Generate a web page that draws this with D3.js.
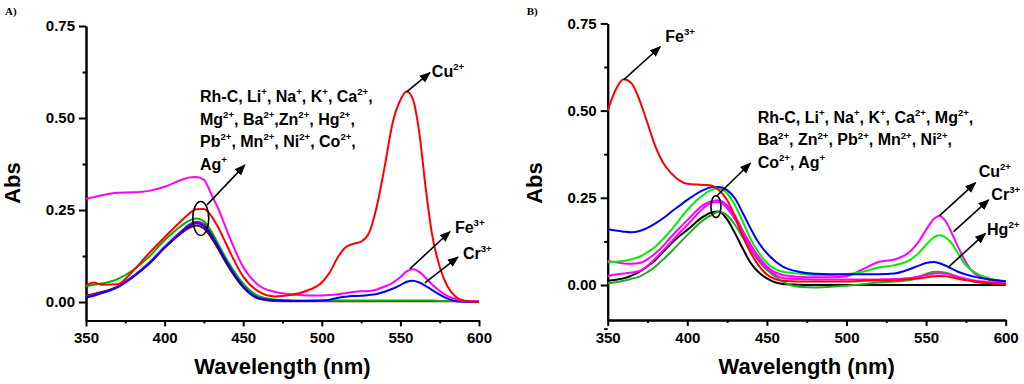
<!DOCTYPE html>
<html>
<head>
<meta charset="utf-8">
<script src="https://cdn.jsdelivr.net/npm/d3@7/dist/d3.min.js"></script>
<style>
  body { margin: 0; background: #fff; }
  svg { display: block; font-family: "Liberation Sans", Arial, sans-serif; }
  .tick text { font-weight: bold; font-size: 15px; fill: #000; }
  .axis path, .axis line { stroke: #000; stroke-width: 2px; }
  .curve { fill: none; stroke-width: 2px; }
</style>
</head>
<body>
<svg id="chart" width="1024" height="384"></svg>
<script>
// ---------- panel A data ----------
let wlA = [350, 355, 360, 370, 380, 390, 400, 410, 415, 420, 425, 430, 435, 440, 450, 460, 470, 480, 490, 500,
           505, 510, 515, 520, 525, 530, 535, 540, 545, 550, 554, 558, 562, 566, 570, 575, 580, 585, 590, 600];

let darkRedA = [0.018, 0.022, 0.027, 0.042, 0.070, 0.106, 0.148, 0.185, 0.200, 0.208, 0.200, 0.173, 0.137, 0.100, 0.040, 0.009, 0.003, 0.002, 0.002, 0.002,
                0.002, 0.002, 0.002, 0.002, 0.002, 0.002, 0.002, 0.002, 0.002, 0.002, 0.002, 0.002, 0.002, 0.002, 0.002, 0.002, 0.002, 0.002, 0.002, 0.002];
let violetA = [0.015, 0.019, 0.025, 0.041, 0.069, 0.105, 0.150, 0.190, 0.208, 0.218, 0.212, 0.185, 0.148, 0.108, 0.045, 0.012, 0.005, 0.003, 0.003, 0.003,
               0.003, 0.003, 0.003, 0.003, 0.003, 0.003, 0.003, 0.003, 0.003, 0.003, 0.003, 0.003, 0.003, 0.003, 0.003, 0.003, 0.003, 0.003, 0.003, 0.003];
let greenA = [0.043, 0.047, 0.050, 0.062, 0.087, 0.123, 0.168, 0.205, 0.220, 0.227, 0.220, 0.190, 0.150, 0.112, 0.050, 0.016, 0.007, 0.005, 0.004, 0.004,
              0.004, 0.004, 0.004, 0.004, 0.004, 0.004, 0.004, 0.004, 0.004, 0.004, 0.004, 0.004, 0.004, 0.004, 0.004, 0.003, 0.003, 0.003, 0.003, 0.003];
let blueA = [0.012, 0.017, 0.024, 0.040, 0.068, 0.103, 0.147, 0.187, 0.205, 0.214, 0.207, 0.180, 0.143, 0.105, 0.042, 0.010, 0.005, 0.003, 0.003, 0.004,
             0.006, 0.011, 0.014, 0.016, 0.017, 0.019, 0.022, 0.028, 0.036, 0.046, 0.055, 0.058, 0.053, 0.044, 0.033, 0.020, 0.009, 0.003, 0.001, 0.000];
let magentaA = [0.280, 0.285, 0.290, 0.297, 0.298, 0.302, 0.313, 0.331, 0.338, 0.340, 0.332, 0.290, 0.245, 0.190, 0.095, 0.045, 0.028, 0.021, 0.018, 0.018,
                0.019, 0.021, 0.024, 0.027, 0.029, 0.030, 0.034, 0.042, 0.052, 0.068, 0.083, 0.089, 0.082, 0.066, 0.048, 0.030, 0.016, 0.008, 0.003, 0.002];
let redA = [0.046, 0.053, 0.047, 0.048, 0.085, 0.132, 0.176, 0.218, 0.238, 0.252, 0.253, 0.232, 0.195, 0.150, 0.069, 0.028, 0.015, 0.019, 0.030, 0.053,
            0.080, 0.120, 0.148, 0.158, 0.164, 0.187, 0.260, 0.368, 0.486, 0.549, 0.572, 0.550, 0.460, 0.313, 0.187, 0.096, 0.042, 0.015, 0.004, 0.000];

// ---------- panel B data ----------
let wlB = [350, 355, 360, 365, 370, 375, 380, 385, 390, 395, 400, 410, 415, 420, 425, 430, 435, 440, 445, 450,
           460, 470, 480, 490, 500, 510, 520, 530, 540, 545, 550, 555, 558, 562, 566, 570, 575, 580, 590, 600];

let blackB = [0.012, 0.015, 0.019, 0.027, 0.038, 0.054, 0.072, 0.096, 0.120, 0.140, 0.158, 0.196, 0.208, 0.211, 0.188, 0.148, 0.103, 0.062, 0.036, 0.019,
              0.003, 0.001, 0.000, 0.000, 0.000, 0.000, 0.000, 0.000, 0.000, 0.000, 0.000, 0.000, 0.000, 0.000, 0.000, 0.000, 0.000, 0.000, 0.000, 0.000];
let greenB = [0.005, 0.008, 0.012, 0.018, 0.024, 0.037, 0.053, 0.074, 0.096, 0.120, 0.143, 0.186, 0.200, 0.210, 0.200, 0.172, 0.135, 0.100, 0.068, 0.043,
              0.010, -0.005, -0.007, -0.005, -0.002, 0.002, 0.007, 0.010, 0.014, 0.022, 0.032, 0.038, 0.038, 0.035, 0.030, 0.022, 0.016, 0.010, 0.005, 0.003];
let pinkB = [0.026, 0.030, 0.033, 0.036, 0.040, 0.055, 0.076, 0.100, 0.124, 0.149, 0.172, 0.220, 0.235, 0.238, 0.220, 0.188, 0.145, 0.105, 0.072, 0.048,
             0.020, 0.017, 0.016, 0.016, 0.016, 0.016, 0.016, 0.017, 0.020, 0.024, 0.029, 0.033, 0.034, 0.032, 0.028, 0.024, 0.018, 0.013, 0.008, 0.005];
let magentaB = [0.070, 0.065, 0.062, 0.061, 0.063, 0.074, 0.091, 0.113, 0.139, 0.163, 0.186, 0.229, 0.240, 0.243, 0.228, 0.198, 0.155, 0.115, 0.080, 0.053,
                0.029, 0.024, 0.022, 0.022, 0.025, 0.045, 0.066, 0.073, 0.096, 0.122, 0.158, 0.190, 0.198, 0.185, 0.150, 0.110, 0.065, 0.035, 0.014, 0.007];
let limeB = [0.065, 0.067, 0.069, 0.074, 0.081, 0.094, 0.110, 0.133, 0.158, 0.187, 0.215, 0.258, 0.272, 0.276, 0.263, 0.228, 0.180, 0.130, 0.092, 0.063,
             0.038, 0.033, 0.029, 0.029, 0.031, 0.038, 0.050, 0.057, 0.072, 0.090, 0.115, 0.137, 0.143, 0.137, 0.120, 0.091, 0.057, 0.038, 0.019, 0.011];
let blueB = [0.160, 0.156, 0.153, 0.151, 0.155, 0.164, 0.177, 0.192, 0.210, 0.227, 0.244, 0.272, 0.280, 0.281, 0.272, 0.248, 0.205, 0.160, 0.120, 0.091,
             0.053, 0.038, 0.032, 0.031, 0.031, 0.031, 0.031, 0.033, 0.046, 0.055, 0.063, 0.066, 0.063, 0.056, 0.047, 0.038, 0.030, 0.024, 0.016, 0.011];
let redB = [0.500, 0.560, 0.590, 0.578, 0.530, 0.464, 0.397, 0.349, 0.320, 0.300, 0.290, 0.287, 0.285, 0.272, 0.244, 0.196, 0.139, 0.091, 0.055, 0.030,
            0.012, 0.010, 0.010, 0.010, 0.010, 0.012, 0.013, 0.014, 0.017, 0.019, 0.022, 0.025, 0.026, 0.025, 0.022, 0.018, 0.014, 0.010, 0.005, 0.003];

let xTicks = [350, 400, 450, 500, 550, 600];
let xMinorTicks = [375, 425, 475, 525, 575];
let yTicks = [0, 0.25, 0.5, 0.75];
let yMinorTicksA = [0.125, 0.375, 0.625];
let yMinorTicksB = [-0.125, 0.125, 0.375, 0.625];

let mixListA = ["Rh-C, Li{+}, Na{+}, K{+}, Ca{2+},", "Mg{2+}, Ba{2+},Zn{2+}, Hg{2+},", "Pb{2+}, Mn{2+}, Ni{2+}, Co{2+},", "Ag{+}"];
let mixListB = ["Rh-C, Li{+}, Na{+}, K{+}, Ca{2+}, Mg{2+},", "Ba{2+}, Zn{2+}, Pb{2+}, Mn{2+}, Ni{2+},", "Co{2+}, Ag{+}"];

let svg = d3.select('#chart');

svg.append('defs').append('marker')
    .attr('id', 'arrow')
    .attr('viewBox', '0 0 10 10')
    .attr('refX', 9).attr('refY', 5)
    .attr('markerWidth', 7).attr('markerHeight', 7)
    .attr('markerUnits', 'strokeWidth')
    .attr('orient', 'auto')
    .append('path')
    .attr('d', 'M0,1 L10,5 L0,9 Z')
    .attr('fill', '#000');

// write "Li{+}" style strings as text with superscript tspans
function richText(sel, str, size) {
    let parts = str.split(/(\{[^}]*\})/).filter((p) => p.length);
    let shift = size * 0.42;
    let back = 0;
    parts.forEach((p) => {
        if (p[0] === '{') {
            sel.append('tspan').attr('dy', back - shift).attr('font-size', size * 0.6).text(p.slice(1, -1));
            back = shift;
        } else {
            sel.append('tspan').attr('dy', back).text(p);
            back = 0;
        }
    });
}

function drawPanel(p) {
    let x = d3.scaleLinear().domain([350, 600]).range(p.xRange);
    let y = d3.scaleLinear().domain(p.yDomain).range(p.yRange);
    let g = svg.append('g');

    // axes
    g.append('g').attr('class', 'axis')
        .attr('transform', 'translate(0,' + p.yRange[0] + ')')
        .call(d3.axisBottom(x).tickValues(xTicks).tickSize(6).tickSizeOuter(0).tickPadding(6).tickFormat(d3.format('d')));
    g.append('g').attr('class', 'axis')
        .attr('transform', 'translate(0,' + p.yRange[0] + ')')
        .call(d3.axisBottom(x).tickValues(xMinorTicks).tickSize(3).tickSizeOuter(0).tickFormat(''));
    g.append('g').attr('class', 'axis')
        .attr('transform', 'translate(' + p.xRange[0] + ',0)')
        .call(d3.axisLeft(y).tickValues(yTicks).tickSize(7).tickSizeOuter(0).tickPadding(4).tickFormat(d3.format('.2f')));
    g.append('g').attr('class', 'axis')
        .attr('transform', 'translate(' + p.xRange[0] + ',0)')
        .call(d3.axisLeft(y).tickValues(p.yMinor).tickSize(3.5).tickSizeOuter(0).tickFormat(''));

    // curves
    let line = d3.line().x((d) => x(d[0])).y((d) => y(d[1])).curve(d3.curveMonotoneX);
    p.series.forEach((s) => {
        g.append('path').attr('class', 'curve')
            .attr('stroke', s.color)
            .attr('d', line(p.wl.map((w, i) => [w, s.values[i]])));
    });

    // ellipse + arrows
    g.append('ellipse')
        .attr('cx', x(p.ellipse[0])).attr('cy', y(p.ellipse[1]))
        .attr('rx', p.ellipse[2]).attr('ry', p.ellipse[3])
        .attr('fill', 'none').attr('stroke', '#000').attr('stroke-width', 1.6);

    p.arrows.forEach((a) => {
        g.append('line')
            .attr('x1', x(a.from[0])).attr('y1', y(a.from[1]))
            .attr('x2', x(a.to[0])).attr('y2', y(a.to[1]))
            .attr('stroke', '#000').attr('stroke-width', 1.6)
            .attr('marker-end', 'url(#arrow)');
        if (a.label) {
            let t = g.append('text').attr('x', x(a.at[0])).attr('y', y(a.at[1]))
                .attr('font-size', 16).attr('font-weight', 'bold');
            richText(t, a.label, 16);
        }
    });

    p.list.forEach((l, i) => {
        let t = g.append('text').attr('x', x(p.listAt[0])).attr('y', y(p.listAt[1]) + i * p.listStep)
            .attr('font-size', 16).attr('font-weight', 'bold');
        richText(t, l, 16);
    });

    // titles
    let xMid = (p.xRange[0] + p.xRange[1]) / 2;
    g.append('text').attr('x', xMid).attr('y', 374)
        .attr('text-anchor', 'middle').attr('font-size', 22).attr('font-weight', 'bold')
        .text('Wavelength (nm)');
    g.append('text')
        .attr('transform', 'translate(' + (p.xRange[0] - 66) + ',183) rotate(-90)')
        .attr('text-anchor', 'middle').attr('font-size', 22).attr('font-weight', 'bold')
        .text('Abs');
    g.append('text').attr('x', p.xRange[0] - 81).attr('y', 15)
        .attr('font-family', '"Liberation Serif", serif').attr('font-size', 11).attr('font-weight', 'bold')
        .text(p.tag);
}

drawPanel({
    tag: 'A)',
    xRange: [86, 479], yDomain: [-0.05, 0.75], yRange: [320.4, 26], yMinor: yMinorTicksA,
    wl: wlA,
    series: [
        {color: '#800000', values: darkRedA},
        {color: '#b000b0', values: violetA},
        {color: '#00b000', values: greenA},
        {color: '#0000ff', values: blueA},
        {color: '#ff00ff', values: magentaA},
        {color: '#ff0000', values: redA},
    ],
    ellipse: [423, 0.227, 8, 17],
    arrows: [
        {from: [427, 0.264], to: [451, 0.372]},
        {from: [554, 0.571], to: [568.8, 0.623], label: 'Cu{2+}', at: [570, 0.612]},
        {from: [556, 0.09], to: [581.5, 0.191], label: 'Fe{3+}', at: [584.7, 0.1875]},
        {from: [565.6, 0.052], to: [586.6, 0.122], label: 'Cr{3+}', at: [589.8, 0.117]},
    ],
    list: mixListA, listAt: [422.5, 0.544], listStep: 22.7,
});

drawPanel({
    tag: 'B)',
    xRange: [607.7, 1005.7], yDomain: [-0.1, 0.75], yRange: [319.9, 23.4], yMinor: yMinorTicksB,
    wl: wlB,
    series: [
        {color: '#000000', values: blackB},
        {color: '#22aa22', values: greenB},
        {color: '#ff00ff', values: pinkB},
        {color: '#ff00ff', values: magentaB},
        {color: '#00ee00', values: limeB},
        {color: '#0000ff', values: blueB},
        {color: '#ff0000', values: redB},
    ],
    ellipse: [418, 0.225, 5, 11],
    arrows: [
        {from: [418, 0.253], to: [439.6, 0.349]},
        {from: [360, 0.588], to: [383, 0.683], label: 'Fe{3+}', at: [386.2, 0.698]},
        {from: [558.3, 0.198], to: [581, 0.293], label: 'Cu{2+}', at: [583, 0.31]},
        {from: [567.3, 0.153], to: [589.3, 0.244], label: 'Cr{3+}', at: [591, 0.244]},
        {from: [564.2, 0.052], to: [587.2, 0.148], label: 'Hg{2+}', at: [588.3, 0.143]},
    ],
    list: mixListB, listAt: [444.2, 0.465], listStep: 22.5,
});
</script>
</body>
</html>
